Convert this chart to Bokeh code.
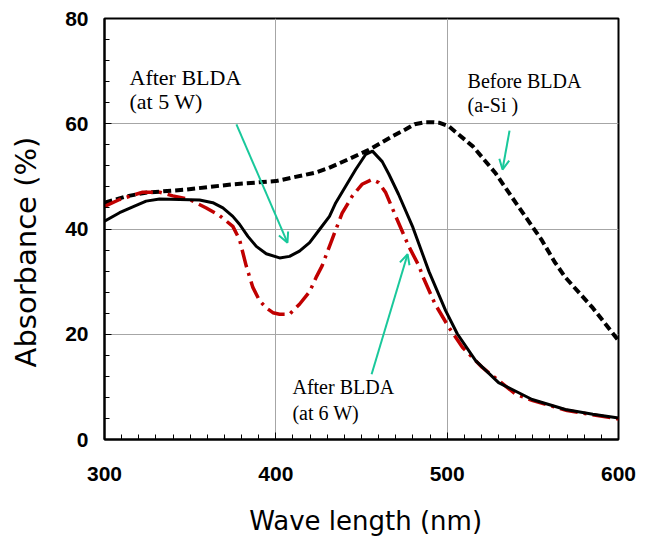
from bokeh.plotting import figure
from bokeh.models import Range1d, FixedTicker, Label, Arrow, OpenHead
from bokeh.embed import file_html
from bokeh.resources import INLINE

# ---- data ----
after5_x = [300, 308.8, 316.5, 324.3, 332.1, 343.8, 355.5, 363.2, 369.1, 374.9, 378.8, 383.7, 388.6,
            394.4, 402.2, 408, 413.8, 419.7, 425.5, 431.3, 435, 446.6, 452.5, 456.4, 462.1, 466, 471.6,
            480, 489.4, 499.1, 505.9, 516.6, 530, 549.6, 569, 585, 600]
after5_y = [41.5, 43.1, 44.2, 45.3, 45.7, 45.6, 45.5, 45.0, 44.0, 42.4, 40.9, 38.6, 36.7,
            35.3, 34.5, 34.8, 35.8, 37.4, 39.9, 42.4, 45.0, 51.3, 54.2, 54.8, 52.8, 50.4, 46.6,
            40.3, 31.9, 24.5, 20.1, 15.0, 10.8, 7.6, 5.7, 4.8, 4.1]

after6_x = [300, 308.8, 322.3, 332.1, 339.9, 349.6, 359.4, 367, 374.9, 378.8, 382.7, 386.6, 390.5,
            394.4, 398.3, 402.2, 408, 413.8, 419.7, 423.5, 427, 432.8, 438.7, 444.5, 450.3, 456.2,
            460.1, 464, 470, 477.6, 483.5, 486, 493, 501, 509, 520.5, 540, 550, 570, 600]
after6_y = [44.3, 45.6, 47.0, 47.0, 46.3, 45.6, 44.0, 42.6, 40.5, 38.0, 33.0, 28.9, 26.4,
            25.0, 24.1, 23.8, 23.8, 25.7, 28.1, 30.8, 33.0, 38.0, 43.0, 46.2, 48.5, 49.4,
            48.8, 47.0, 42.4, 36.7, 33.0, 30.8, 25.7, 21.3, 17.5, 13.7, 8.6, 7.4, 5.5, 3.9]

before_x = [300, 312.7, 324, 348, 375, 400, 423, 431, 442, 454, 468, 475.6, 481, 487.4, 491, 495.2,
            501, 515, 528, 540, 555, 563, 569, 585, 600]
before_y = [45.0, 46.2, 46.9, 47.5, 48.5, 49.1, 50.7, 51.6, 53.2, 55.0, 57.6, 58.9, 59.9, 60.3, 60.3, 60.2,
            59.5, 55.7, 50.7, 45.0, 38.0, 33.6, 30.8, 25.0, 18.8]

x_ticks = [300, 400, 500, 600]
y_ticks = [0, 20, 40, 60, 80]

ARROW = "#19C89B"
SERIF = "Liberation Serif"
NBSP = "\u00a0"

p = figure(width=644, height=538, output_backend="svg", toolbar_location=None,
           x_range=Range1d(300, 600), y_range=Range1d(0, 80),
           min_border_left=104, min_border_right=26, min_border_top=18, min_border_bottom=99,
           x_axis_label=NBSP + "Wave length (nm)", y_axis_label="Absorbance (%)" + NBSP * 5)

p.outline_line_color = "black"
p.outline_line_width = 2
p.background_fill_color = "white"
p.border_fill_color = "white"

p.xaxis.ticker = FixedTicker(ticks=x_ticks, minor_ticks=list(range(300, 601, 10)))
p.yaxis.ticker = FixedTicker(ticks=y_ticks, minor_ticks=list(range(0, 81, 4)))

for ax in (p.xaxis, p.yaxis):
    ax.axis_line_width = 2
    ax.axis_line_color = "black"
    ax.major_tick_in = 7
    ax.major_tick_out = 0
    ax.minor_tick_in = 5
    ax.minor_tick_out = 0
    ax.major_tick_line_color = "black"
    ax.minor_tick_line_color = "black"
    ax.major_label_text_font = "Liberation Sans"
    ax.major_label_text_font_style = "bold"
    ax.major_label_text_font_size = "21px"
    ax.major_label_text_color = "black"
    ax.axis_label_text_font = "DejaVu Sans"
    ax.axis_label_text_font_style = "normal"
    ax.axis_label_text_color = "black"

p.xaxis.major_label_standoff = 27
p.yaxis.major_label_standoff = 16
p.xaxis.axis_label_text_font_size = "26px"
p.yaxis.axis_label_text_font_size = "29px"
p.xaxis.axis_label_standoff = 22
p.yaxis.axis_label_standoff = 19

p.grid.grid_line_color = "#a6a6a6"
p.grid.grid_line_width = 1

p.line(before_x, before_y, line_color="black", line_width=4, line_dash="8 4")
p.line(after6_x, after6_y, line_color="#C00000", line_width=3.5, line_dash="18 6 3 6")
p.line(after5_x, after5_y, line_color="black", line_width=3)

def txt(x, y, s, size="22px"):
    p.add_layout(Label(x=x, y=y, text=s, text_font=SERIF, text_font_size=size,
                       text_color="black"))

txt(314.6, 66.5, "After BLDA")
txt(314.6, 61.8, "(at 5 W)")
txt(511.9, 66.1, "Before BLDA", size="20px")
txt(511.9, 61.4, "(a-Si )", size="20px")
txt(409.7, 7.8, "After BLDA", size="20px")
txt(409.7, 2.9, "(at 6 W)", size="20px")

for (x0, y0, x1, y1) in [(377, 59.9, 406.8, 37.4), (536.4, 58.7, 532.3, 51.3), (455.9, 12.4, 476.9, 35.2)]:
    p.add_layout(Arrow(x_start=x0, y_start=y0, x_end=x1, y_end=y1, line_color=ARROW, line_width=2,
                       end=OpenHead(size=10, line_color=ARROW, line_width=2)))

open("out.html", "w").write(file_html(p, INLINE))
